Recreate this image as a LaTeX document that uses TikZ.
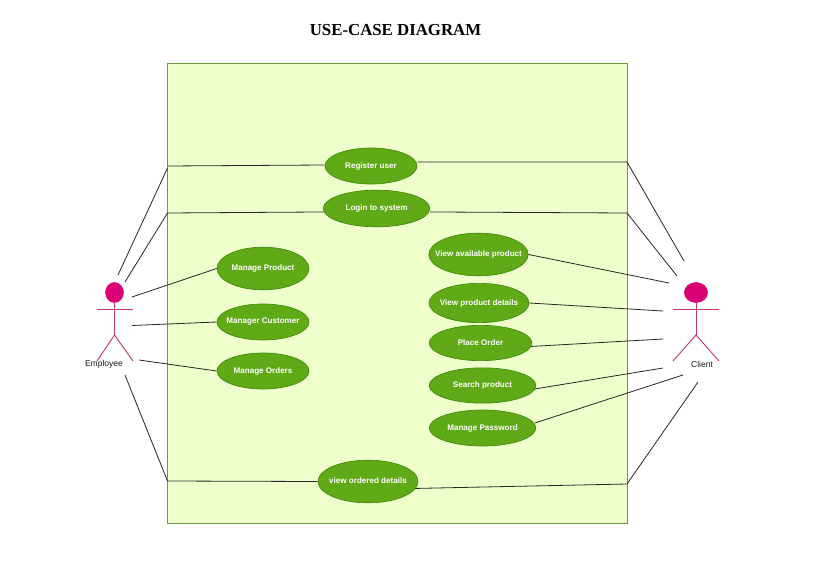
\documentclass[tikz,border=0pt]{standalone}
\usepackage{fontspec}
\setmainfont{Liberation Sans}
\newfontfamily\titlefont{Liberation Serif}
\usetikzlibrary{shapes.geometric}
\definecolor{sysfill}{HTML}{EEFFCC}
\definecolor{sysline}{HTML}{6A9A3C}
\definecolor{ucfill}{HTML}{60A917}
\definecolor{ucline}{HTML}{3F8A0A}
\definecolor{actfill}{HTML}{D80073}
\definecolor{actline}{HTML}{C2386F}
\newcommand{\uclabel}[1]{\makebox[0pt]{\vphantom{Apg}#1}}
\tikzset{
  usecase/.style={ellipse,draw=ucline,fill=ucfill,line width=0.5pt,inner sep=0pt,text=white,font=\fontsize{6.05}{8}\selectfont\bfseries},
  link/.style={draw=black!85,line width=0.6pt},
  limb/.style={draw=actline,line width=0.7pt},
  head/.style={ellipse,draw=actfill,fill=actfill,inner sep=0pt},
  actorlabel/.style={font=\fontsize{6.4}{8}\selectfont,text=black!90,inner sep=0pt}
}
\begin{document}
\begin{tikzpicture}[x=0.75pt,y=-0.75pt]
\useasboundingbox (0,0) rectangle (816,570);
\node[font=\titlefont\fontsize{12.6}{15}\selectfont\bfseries,inner sep=0pt] (title) at (395.5,30.5) {USE-CASE DIAGRAM};
\node[rectangle,draw=sysline,fill=sysfill,line width=0.6pt,minimum width=345pt,minimum height=344.6pt,inner sep=0pt] (system) at (397.2,293.5) {};
% use cases
\node[usecase,minimum width=69pt,minimum height=27pt] (register) at (371,166) {\uclabel{Register user}};
\node[usecase,minimum width=80pt,minimum height=27.5pt] (login) at (376.5,208.5) {\uclabel{Login to system}};
\node[usecase,minimum width=69pt,minimum height=32pt] (mproduct) at (263,268.5) {\uclabel{Manage Product}};
\node[usecase,minimum width=69pt,minimum height=27pt] (mcustomer) at (263,322) {\uclabel{Manager Customer}};
\node[usecase,minimum width=69pt,minimum height=27pt] (morders) at (263,371) {\uclabel{Manage Orders}};
\node[usecase,minimum width=74.5pt,minimum height=32pt] (vavail) at (478.5,254.5) {\uclabel{View available product}};
\node[usecase,minimum width=75pt,minimum height=29.5pt] (vdetails) at (479,303) {\uclabel{View product details}};
\node[usecase,minimum width=77pt,minimum height=26.5pt] (place) at (480.5,343) {\uclabel{Place Order}};
\node[usecase,minimum width=80pt,minimum height=26.5pt] (search) at (482.5,385.5) {\uclabel{Search product}};
\node[usecase,minimum width=80pt,minimum height=27pt] (password) at (482.5,428) {\uclabel{Manage Password}};
\node[usecase,minimum width=75pt,minimum height=32pt] (vordered) at (368,481.5) {\uclabel{view ordered details}};
% employee actor
\node[head,minimum width=13.5pt,minimum height=15pt] (ehead) at (114.5,292.5) {};
\coordinate (earml) at (97,309); \coordinate (earmr) at (133,309);
\coordinate (ehip) at (114.5,335);
\coordinate (elegl) at (97,361); \coordinate (elegr) at (133,361);
\draw[limb] (earml) -- (earmr);
\draw[limb] (ehead) -- (ehip);
\draw[limb] (elegl) -- (ehip) -- (elegr);
\node[actorlabel] (elabel) at (104,364.5) {Employee};
% client actor
\node[head,minimum width=17.5pt,minimum height=15pt] (chead) at (696,292.5) {};
\coordinate (carml) at (673,309); \coordinate (carmr) at (719,309);
\coordinate (chip) at (696,335);
\coordinate (clegl) at (673,361); \coordinate (clegr) at (719,361);
\draw[limb] (carml) -- (carmr);
\draw[limb] (chead) -- (chip);
\draw[limb] (clegl) -- (chip) -- (clegr);
\node[actorlabel] (clabel) at (702,364.5) {Client};
% free ends
\coordinate (e1) at (118,275); \coordinate (e1b) at (167.5,168);
\coordinate (e1c) at (167.5,166);
\coordinate (e2) at (125,282); \coordinate (e2b) at (167.5,213);
\coordinate (e3) at (132,297); \coordinate (e4) at (132,325.5);
\coordinate (e5) at (139,360); \coordinate (e6) at (125,375);
\coordinate (e6b) at (167.5,481);
\coordinate (c1) at (684,261); \coordinate (c1b) at (627,162);
\coordinate (c2) at (677,276); \coordinate (c2b) at (627,213);
\coordinate (c3) at (669,283); \coordinate (c4) at (663,311);
\coordinate (c5) at (663,339); \coordinate (c6) at (663,368);
\coordinate (c7) at (683,375); \coordinate (c8) at (698,382);
\coordinate (c8b) at (627,484);
% connectors
\draw[link] (e1) -- (e1b);
\draw[link] (e1c) -- ([yshift=0.75pt]register.west);
\draw[link] (e2) -- (e2b) -- ([xshift=0.5pt,yshift=-2.6pt]login.west);
\draw[link] (e3) -- (mproduct.west);
\draw[link] (e4) -- (mcustomer.west);
\draw[link] (e5) -- (morders.west);
\draw[link] (e6) -- (e6b) -- (vordered.west);
\draw[link] ([yshift=3pt]register.east) -- (c1b) -- (c1);
\draw[link] ([yshift=-2.6pt]login.east) -- (c2b) -- (c2);
\draw[link] (vavail.east) -- (c3);
\draw[link] (vdetails.east) -- (c4);
\draw[link] ([xshift=-1pt,yshift=-2.6pt]place.east) -- (c5);
\draw[link] ([xshift=-1pt,yshift=-2.6pt]search.east) -- (c6);
\draw[link] ([xshift=-1pt,yshift=3.75pt]password.east) -- (c7);
\draw[link] ([xshift=-2.2pt,yshift=-5.2pt]vordered.east) -- (c8b) -- (c8);
\end{tikzpicture}
\end{document}
